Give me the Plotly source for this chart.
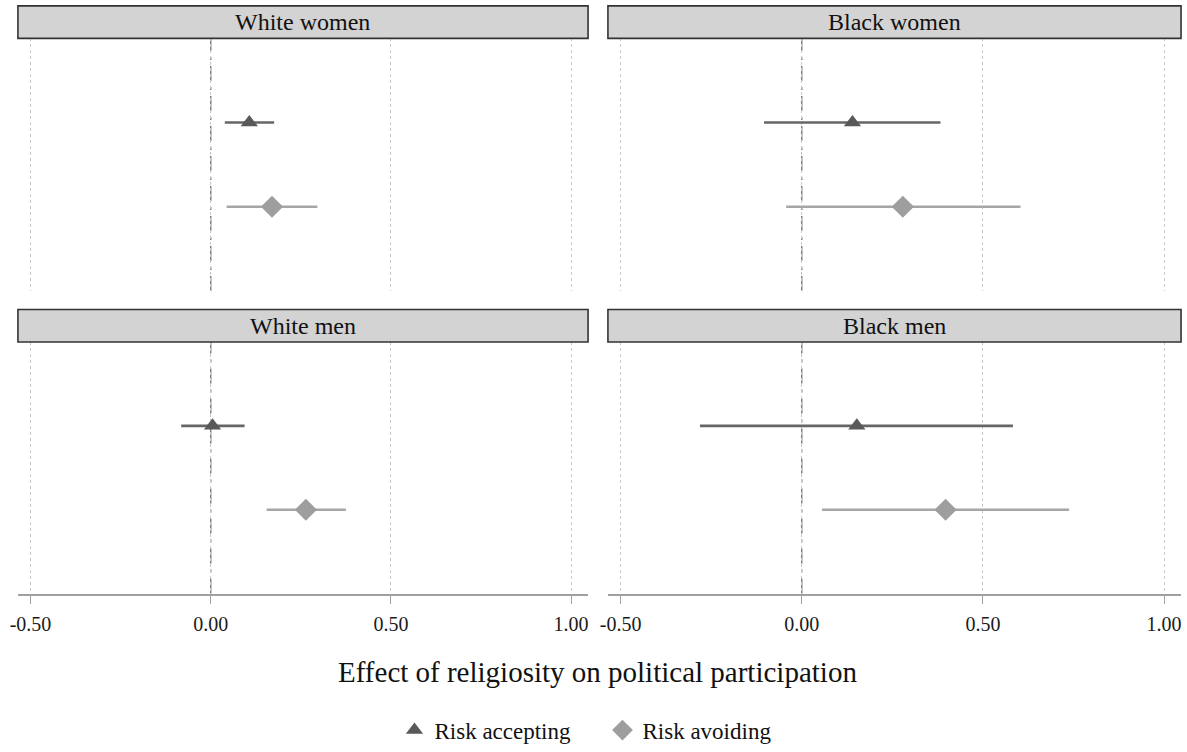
import plotly.graph_objects as go

# Estimated effects with 95% confidence intervals, by group and risk orientation
panels = ["White women", "Black women", "White men", "Black men"]
accept_est = [0.107, 0.140, 0.005, 0.152]
accept_lo = [0.039, -0.104, -0.082, -0.281]
accept_hi = [0.176, 0.383, 0.094, 0.583]
avoid_est = [0.170, 0.279, 0.264, 0.397]
avoid_lo = [0.044, -0.043, 0.155, 0.056]
avoid_hi = [0.296, 0.604, 0.375, 0.738]

tick_vals = [-0.5, 0.0, 0.5, 1.0]
tick_text = ["-0.50", "0.00", "0.50", "1.00"]
series_names = ["Risk accepting", "Risk avoiding"]

FONT = "Liberation Serif, Times New Roman, serif"
DARK = "#595959"
LIGHT = "#9e9e9e"

W, H = 1187, 752
# panel geometry in pixels: (x0, x1) columns, (strip_top, plot_top, plot_bottom) rows
cols = [(10, 584), (604, 1181)]
rows = [(6, 39, 296), (315, 348, 604)]


def px_x(v):
    return v / W


def px_y(v):
    return (H - v) / H


fig = go.Figure()
shapes = []
annotations = []

for i, name in enumerate(panels):
    r, c = divmod(i, 2)
    ax = "" if i == 0 else str(i + 1)
    xref, yref = "x" + ax, "y" + ax

    fig.add_trace(go.Scatter(
        x=[accept_est[i]], y=[1], xaxis=xref, yaxis=yref,
        mode="markers", name=series_names[0], legendgroup="a",
        showlegend=(i == 0),
        marker=dict(symbol="triangle-up", size=15, color=DARK),
        error_x=dict(type="data", symmetric=False,
                     array=[accept_hi[i] - accept_est[i]],
                     arrayminus=[accept_est[i] - accept_lo[i]],
                     color="#666666", thickness=2.6, width=0),
    ))
    fig.add_trace(go.Scatter(
        x=[avoid_est[i]], y=[2], xaxis=xref, yaxis=yref,
        mode="markers", name=series_names[1], legendgroup="b",
        showlegend=(i == 0),
        marker=dict(symbol="diamond", size=17, color=LIGHT),
        error_x=dict(type="data", symmetric=False,
                     array=[avoid_hi[i] - avoid_est[i]],
                     arrayminus=[avoid_est[i] - avoid_lo[i]],
                     color="#a6a6a6", thickness=2.6, width=0),
    ))

    x0, x1 = cols[c]
    s_top, p_top, p_bot = rows[r]
    bottom = r == 1
    fig.update_layout({
        "xaxis" + ax: dict(
            domain=[px_x(x0), px_x(x1)], range=[-0.535, 1.047],
            anchor="y" + ax, tickvals=tick_vals, ticktext=tick_text,
            showticklabels=bottom, showline=bottom, linecolor="#a0a0a0",
            linewidth=1.6, ticks="outside" if bottom else "",
            ticklen=9, tickwidth=1.4, tickcolor="#a0a0a0",
            ticklabelstandoff=3,
            showgrid=True, gridcolor="#c8c8c8", griddash="dot",
            gridwidth=1, zeroline=False,
            tickfont=dict(family=FONT, size=20, color="#1a1a1a"),
        ),
        "yaxis" + ax: dict(
            domain=[px_y(p_bot), px_y(p_top)], range=[3, 0],
            anchor="x" + ax, showticklabels=False, showgrid=False,
            zeroline=False, showline=False, ticks="",
        ),
    })

    # reference line at zero effect
    shapes.append(dict(
        type="line", xref=xref, yref=yref + " domain",
        x0=0, x1=0, y0=0, y1=1, layer="below",
        line=dict(color="#7a7a7a", width=1.4, dash="longdashdot"),
    ))
    # panel strip
    shapes.append(dict(
        type="rect", xref="paper", yref="paper",
        x0=px_x(x0), x1=px_x(x1), y0=px_y(p_top), y1=px_y(s_top),
        fillcolor="#d3d3d3", line=dict(color="#333333", width=1.6),
    ))
    annotations.append(dict(
        text=name, xref="paper", yref="paper",
        x=px_x((x0 + x1) / 2), y=px_y((s_top + p_top) / 2),
        xanchor="center", yanchor="middle", showarrow=False,
        font=dict(family=FONT, size=24, color="#111111"),
    ))

annotations.append(dict(
    text="Effect of religiosity on political participation",
    xref="paper", yref="paper", x=px_x(593), y=px_y(684),
    xanchor="center", yanchor="middle", showarrow=False,
    font=dict(family=FONT, size=29, color="#111111"),
))

fig.update_layout(
    width=W, height=H,
    margin=dict(l=0, r=0, t=0, b=0),
    paper_bgcolor="white", plot_bgcolor="white",
    shapes=shapes, annotations=annotations,
    showlegend=True,
    legend=dict(
        orientation="h", x=px_x(598.5), xanchor="center",
        y=px_y(743), yanchor="middle",
        font=dict(family=FONT, size=23, color="#111111"),
        itemwidth=30, entrywidth=163, entrywidthmode="pixels",
        tracegroupgap=0, bgcolor="rgba(0,0,0,0)",
    ),
)

fig.write_html("out.html")
